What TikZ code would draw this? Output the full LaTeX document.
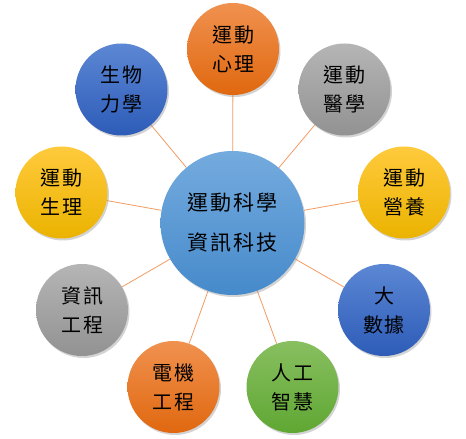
\documentclass[tikz,border=0pt]{standalone}
\usepackage{fontspec}
\newfontfamily\cjk{Noto Sans CJK TC}
\usetikzlibrary{shadows,backgrounds}
\definecolor{orT}{HTML}{F0914F}\definecolor{orB}{HTML}{E0680F}
\definecolor{grT}{HTML}{B5B5B5}\definecolor{grB}{HTML}{929292}
\definecolor{yeT}{HTML}{FFCA3C}\definecolor{yeB}{HTML}{EBB300}
\definecolor{blT}{HTML}{5C87D4}\definecolor{blB}{HTML}{2D5CB8}
\definecolor{gnT}{HTML}{88BF60}\definecolor{gnB}{HTML}{5FA733}
\definecolor{ceT}{HTML}{74ABDE}\definecolor{ceB}{HTML}{468ACB}
\definecolor{link}{HTML}{F29B62}
\tikzset{
  bubble/.style={circle, minimum size=92pt, inner sep=0pt, align=center,
    font=\cjk\fontsize{20}{29}\selectfont, text=black,
    drop shadow={opacity=0.35, shadow xshift=1.5pt, shadow yshift=-2pt}},
  hub/.style={bubble, minimum size=144pt, top color=ceT, bottom color=ceB,
    font=\cjk\fontsize{21}{40}\selectfont},
  orb/.style={bubble, top color=orT, bottom color=orB},
  grb/.style={bubble, top color=grT, bottom color=grB},
  yeb/.style={bubble, top color=yeT, bottom color=yeB},
  blb/.style={bubble, top color=blT, bottom color=blB},
  gnb/.style={bubble, top color=gnT, bottom color=gnB},
  spoke/.style={draw=link, line width=0.8pt}
}
\begin{document}
\begin{tikzpicture}[x=1pt,y=1pt]
\useasboundingbox (0,0) rectangle (466,439);
\node[hub] (c) at (232.5,216) {運\kern2pt 動\kern2pt 科\kern2pt 學\\資\kern2pt 訊\kern2pt 科\kern2pt 技};
\node[orb] (psy) at (233,390) {運\kern2pt 動\\心\kern2pt 理};
\node[grb] (med) at (344.5,349.5) {運\kern2pt 動\\醫\kern2pt 學};
\node[yeb] (nut) at (404,246.5) {運\kern2pt 動\\營\kern2pt 養};
\node[blb] (big) at (384,129) {大\\數\kern2pt 據};
\node[gnb] (ai) at (292.5,52) {人\kern2pt 工\\智\kern2pt 慧};
\node[orb] (ee) at (173.5,52) {電\kern2pt 機\\工\kern2pt 程};
\node[grb] (cs) at (82,129) {資\kern2pt 訊\\工\kern2pt 程};
\node[yeb] (phy) at (61.5,246.5) {運\kern2pt 動\\生\kern2pt 理};
\node[blb] (bio) at (121.5,349.5) {生\kern2pt 物\\力\kern2pt 學};
\begin{scope}[on background layer]
\foreach \t in {psy,med,nut,big,ai,ee,cs,phy,bio}
  \draw[spoke] (c) -- (\t);
\end{scope}
\end{tikzpicture}
\end{document}
